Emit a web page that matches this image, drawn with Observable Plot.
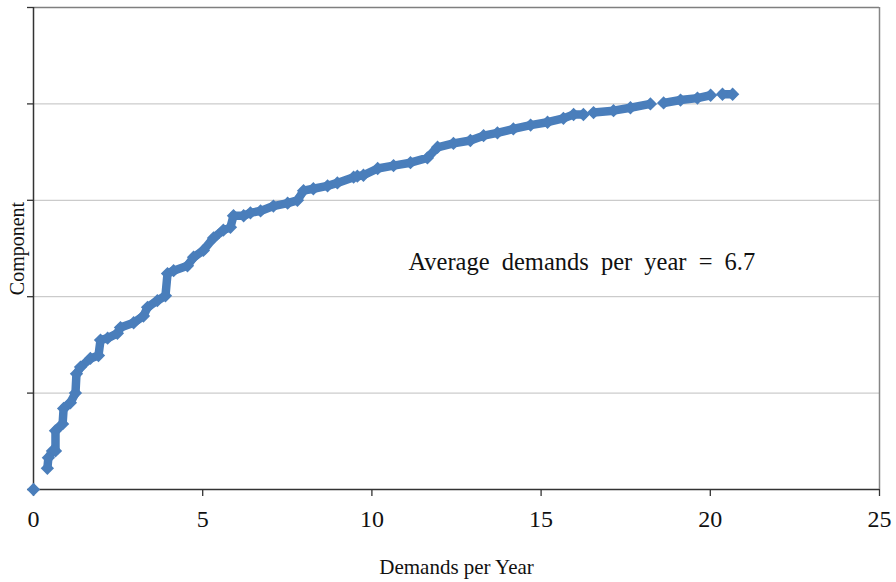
<!DOCTYPE html>
<html>
<head>
<meta charset="utf-8">
<script src="https://cdn.jsdelivr.net/npm/d3@7"></script>
<script src="https://cdn.jsdelivr.net/npm/@observablehq/plot@0.6"></script>
<style>
  html, body { margin: 0; padding: 0; background: #fff; }
  #chart svg { display: block; }
  #chart svg, #chart svg text { font-family: "Liberation Serif", "Times New Roman", serif !important; }
</style>
</head>
<body>
<div id="chart"></div>
<script>
// Demands per year (x) and cumulative component position (y, unlabeled axis 0–5)
const demands = [0, 0.41, 0.44, 0.56, 0.65, 0.65, 0.86, 0.89, 1.09, 1.24, 1.27, 1.39, 1.68, 1.92, 1.98, 2.19, 2.48, 2.57, 2.96, 3.25, 3.37, 3.66, 3.90, 3.96, 4.14, 4.55, 4.73, 5.02, 5.32, 5.61, 5.82, 5.91, 6.21, 6.41, 6.71, 7.09, 7.51, 7.80, 7.98, 8.27, 8.69, 8.98, 9.46, 9.57, 9.75, 10.17, 10.64, 11.14, 11.64, 11.94, 12.41, 12.91, 13.30, 13.71, 14.18, 14.69, 15.19, 15.66, 15.96, 16.25, 16.55, 17.14, 17.64, 18.23, 18.62, 19.12, 19.62, 20.01, 20.36, 20.66];
const component = [0, 0.22, 0.33, 0.40, 0.40, 0.61, 0.68, 0.84, 0.90, 1.00, 1.20, 1.27, 1.36, 1.39, 1.55, 1.57, 1.62, 1.68, 1.73, 1.80, 1.89, 1.96, 2.01, 2.24, 2.27, 2.32, 2.41, 2.48, 2.61, 2.69, 2.72, 2.84, 2.84, 2.87, 2.89, 2.94, 2.97, 3.00, 3.10, 3.12, 3.15, 3.18, 3.24, 3.25, 3.26, 3.33, 3.36, 3.39, 3.44, 3.55, 3.59, 3.62, 3.67, 3.70, 3.74, 3.78, 3.81, 3.85, 3.89, 3.89, 3.91, 3.93, 3.96, 4.00, 4.01, 4.04, 4.06, 4.09, 4.10, 4.10];
// x values after which the run of diamonds visibly breaks
const gapAfter = [0, 16.25, 18.23, 20.01];
const xTicks = [0, 5, 10, 15, 20, 25];
const yTicks = [0, 1, 2, 3, 4, 5];
const xTitle = "Demands per Year";
const yTitle = "Component";
const note = "Average demands per year = 6.7";
const noteX = 11.08, noteY = 2.36;

const data = demands.map((x, i) => ({
  x, y: component[i],
  seg: gapAfter.filter(g => g < x).length
}));

const blue = "#4a7ebb";
const font = "Liberation Serif, Times New Roman, serif";

const chart = Plot.plot({
  width: 896,
  height: 582,
  marginLeft: 33,
  marginRight: 17,
  marginTop: 7,
  marginBottom: 93,
  style: { fontFamily: font, background: "#fff" },
  x: { domain: [0, 25], ticks: xTicks },
  y: { domain: [0, 5], ticks: yTicks },
  marks: [
    Plot.gridY(yTicks.slice(1, -1), { stroke: "#bfbfbf", strokeOpacity: 1, strokeWidth: 1 }),
    Plot.ruleY([5], { stroke: "#7f7f7f", strokeWidth: 1.5 }),
    Plot.ruleX([25], { stroke: "#868686", strokeWidth: 1.5 }),
    Plot.axisY(yTicks, { tickSize: 6, tickFormat: () => "", stroke: "#333", strokeWidth: 1.3, label: null }),
    Plot.axisX(xTicks, { tickSize: 7, tickPadding: 13, fontSize: 24, stroke: "#333", strokeWidth: 1.3, fill: "#111", label: null }),
    Plot.ruleX([0], { stroke: "#333", strokeWidth: 1.5 }),
    Plot.ruleY([0], { stroke: "#333", strokeWidth: 1.5 }),
    Plot.line(data.filter(d => d.seg > 0), {
      x: "x", y: "y", z: "seg", stroke: blue, strokeWidth: 8.5,
      strokeLinejoin: "round", strokeLinecap: "round", curve: "linear"
    }),
    Plot.dot(data, { x: "x", y: "y", symbol: "diamond2", r: 6, fill: blue, stroke: "none" }),
    Plot.text([note], { x: () => noteX, y: () => noteY, text: d => d, textAnchor: "start", fontSize: 24.5, fill: "#111", fontFamily: font }),
    Plot.text([xTitle], { frameAnchor: "bottom", dy: 84, lineAnchor: "bottom", fontSize: 21, fill: "#111", fontFamily: font }),
    Plot.text([yTitle], { frameAnchor: "left", dx: -16, rotate: -90, textAnchor: "middle", fontSize: 20, fill: "#111", fontFamily: font })
  ]
});
document.getElementById("chart").appendChild(chart);
d3.select(chart).selectAll("text").filter(function () { return this.textContent === note; })
  .style("word-spacing", "6px");
</script>
</body>
</html>
